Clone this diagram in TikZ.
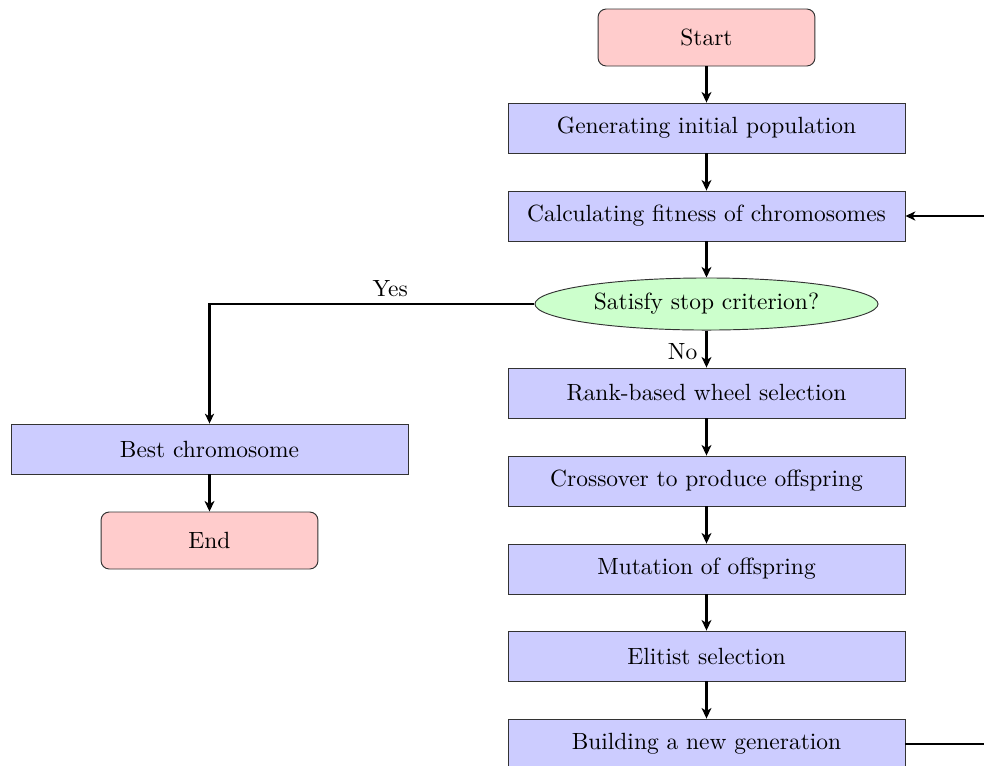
\documentclass[tikz,border=0pt]{standalone}
\usetikzlibrary{arrows.meta,shapes.geometric}
\tikzset{
  px/.style={x=0.42644pt,y=-0.42644pt},
  blockbox/.style={draw=black!80,line width=0.4pt,fill=blue!20,minimum width=169.3pt,minimum height=21.3pt,inner sep=0pt},
  termbox/.style={draw=black!80,line width=0.4pt,fill=red!20,rounded corners=3.5pt,minimum width=92.5pt,minimum height=24.3pt,inner sep=0pt},
  decbox/.style={draw=black!80,line width=0.4pt,fill=green!20,ellipse,minimum width=146.3pt,minimum height=22.2pt,inner sep=0pt},
  mainarrow/.style={line width=1.2pt,-{Stealth[length=4.5pt,width=4.2pt,inset=1.3pt]}},
  thinarrow/.style={line width=0.9pt,-{Stealth[length=4.2pt,width=3.9pt,inset=1.2pt]}},
  edgelabel/.style={yshift=-0.9pt},
}
\begin{document}
\begin{tikzpicture}[px]
\clip (0,0) rectangle (984,765);
\node[termbox] (start) at (706.5,37.5) {Start};
\node[blockbox] (gen) at (706.5,128) {Generating initial population};
\node[blockbox] (calc) at (706.5,216) {Calculating fitness of chromosomes};
\node[decbox] (cond) at (706.5,304) {Satisfy stop criterion?};
\node[blockbox] (rank) at (706.5,393) {Rank-based wheel selection};
\node[blockbox] (cross) at (706.5,481) {Crossover to produce offspring};
\node[blockbox] (mut) at (706.5,569) {Mutation of offspring};
\node[blockbox] (elit) at (706.5,656) {Elitist selection};
\node[blockbox] (build) at (706.5,744) {Building a new generation};
\node[blockbox] (best) at (209.5,449) {Best chromosome};
\node[termbox] (end) at (209.5,540.5) {End};
\coordinate (loopcorner) at (1010,744);

\draw[mainarrow] (start) -- (gen);
\draw[mainarrow] (gen) -- (calc);
\draw[mainarrow] (calc) -- (cond);
\draw[mainarrow] (cond) -- node[left,edgelabel] {No} (rank);
\draw[mainarrow] (rank) -- (cross);
\draw[mainarrow] (cross) -- (mut);
\draw[mainarrow] (mut) -- (elit);
\draw[mainarrow] (elit) -- (build);
\draw[mainarrow] (best) -- (end);
\draw[thinarrow] (cond.west) -| node[above,pos=0.222,edgelabel] {Yes} (best.north);
\draw[thinarrow] (build.east) -- (loopcorner) |- (calc.east);
\end{tikzpicture}
\end{document}
